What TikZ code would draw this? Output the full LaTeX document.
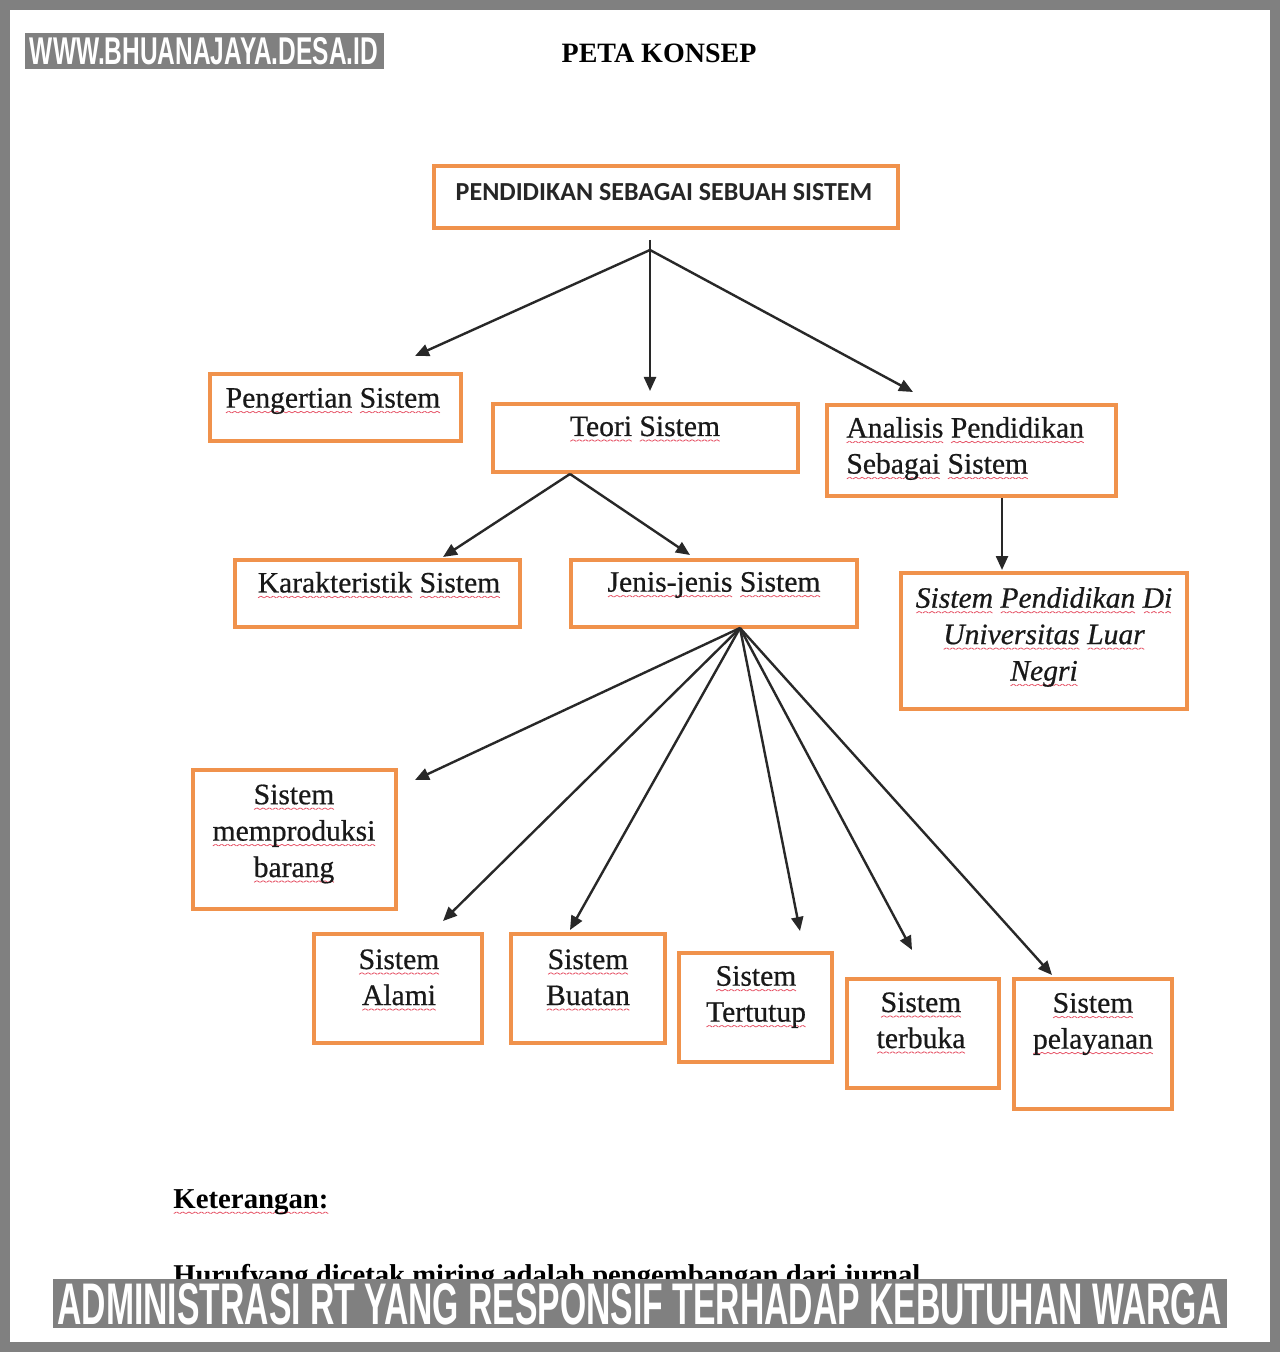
\documentclass[tikz,border=0pt]{standalone}
\usepackage{fontspec}
\setmainfont{Liberation Serif}
\newfontfamily\carlito{Carlito}
\newfontfamily\heros{Liberation Sans}
\newfontface\boxfont{Liberation Serif}[FakeBold=0.6]
\newfontface\boxfontit{Liberation Serif Italic}[FakeBold=0.6]
\usetikzlibrary{arrows.meta}
\definecolor{boxorange}{RGB}{240,146,76}
\definecolor{wmgray}{RGB}{128,128,128}
\definecolor{arrgray}{RGB}{40,40,40}
\definecolor{wavered}{RGB}{230,80,100}
\newcommand\wavepiece{\rotatebox{30}{\rule{1.5pt}{0.4pt}}\raisebox{0.75pt}{\rotatebox{-30}{\rule{1.5pt}{0.4pt}}}}
\newcommand\rw[1]{\setbox0=\hbox{#1}\leavevmode\rlap{\raisebox{-2.8pt}{\textcolor{wavered}{\hbox to\wd0{\xleaders\hbox{\wavepiece}\hfil}}}}\box0\relax}
\begin{document}
\begin{tikzpicture}[x=0.5pt,y=-0.5pt,
  box/.style={draw=boxorange, line width=2pt, inner sep=0pt, fill=white},
  txt/.style={font=\fontsize{14.8}{18}\selectfont\boxfont, align=center, inner sep=0pt, text=black!90},
  arr/.style={-{Triangle[length=7pt,width=6pt]}, line width=1.2pt, draw=arrgray}]
% frame
\fill[wmgray] (0,0) rectangle (1280,1352);
\fill[white] (10,10) rectangle (1270,1342);
\useasboundingbox (0,0) rectangle (1280,1352);

% watermark
\node[fill=wmgray, minimum width=179.5pt, minimum height=18pt, inner sep=0pt] (wm) at (204.5,51) {};
\node[text=white, inner sep=0pt] (wmt) at (204,51.5) {\resizebox{174pt}{13.5pt}{\heros\bfseries WWW.BHUANAJAYA.DESA.ID}};

% title
\node[font=\fontsize{14}{16}\selectfont\bfseries, inner sep=0pt] (title) at (659,53) {PETA KONSEP};

% boxes
\node[box, minimum width=232pt, minimum height=31pt] (top) at (666,197.5) {};
\node[inner sep=0pt, font=\fontsize{13}{15}\selectfont\carlito\bfseries, text=black!85] (topt) at (664,192) {PENDIDIKAN SEBAGAI SEBUAH SISTEM};

\node[box, minimum width=125.5pt, minimum height=33pt] (peng) at (335.5,407.5) {};
\node[txt] (pengt) at (333,401) {\rw{Pengertian} \rw{Sistem}};

\node[box, minimum width=152.5pt, minimum height=33.5pt] (teori) at (645.5,438) {};
\node[txt] (teorit) at (645,429) {\rw{Teori} \rw{Sistem}};

\node[box, minimum width=144.5pt, minimum height=45.5pt] (anal) at (971.5,450.5) {};
\node[txt, align=left, anchor=west] (analt) at (846,448.5) {\rw{Analisis} \rw{Pendidikan}\\\rw{Sebagai} \rw{Sistem}};

\node[box, minimum width=142.5pt, minimum height=33.5pt] (karak) at (377.5,593) {};
\node[txt] (karakt) at (379,585) {\rw{Karakteristik} \rw{Sistem}};

\node[box, minimum width=143pt, minimum height=33.5pt] (jenis) at (714,593) {};
\node[txt] (jenist) at (714,585) {\rw{Jenis-jenis} \rw{Sistem}};

\node[box, minimum width=143pt, minimum height=68pt] (luar) at (1044,641) {};
\node[txt, font=\fontsize{14.8}{18.2}\selectfont\boxfontit] (luart) at (1044,637) {\rw{Sistem} \rw{Pendidikan} \rw{Di}\\\rw{Universitas} \rw{Luar}\\\rw{Negri}};

\node[box, minimum width=101.5pt, minimum height=69.5pt] (barang) at (294.5,839.5) {};
\node[txt, font=\fontsize{14.8}{18.2}\selectfont\boxfont] (barangt) at (294,834) {\rw{Sistem}\\\rw{memproduksi}\\\rw{barang}};

\node[box, minimum width=84pt, minimum height=54.5pt] (alami) at (398,988.5) {};
\node[txt] (alamit) at (399,980) {\rw{Sistem}\\\rw{Alami}};

\node[box, minimum width=77pt, minimum height=54.5pt] (buatan) at (588,988.5) {};
\node[txt] (buatant) at (588,980) {\rw{Sistem}\\\rw{Buatan}};

\node[box, minimum width=76.5pt, minimum height=54.5pt] (tutup) at (755.5,1007.5) {};
\node[txt] (tutupt) at (756,997) {\rw{Sistem}\\\rw{Tertutup}};

\node[box, minimum width=76pt, minimum height=54.5pt] (buka) at (923,1033.5) {};
\node[txt] (bukat) at (921,1023) {\rw{Sistem}\\\rw{terbuka}};

\node[box, minimum width=79pt, minimum height=65pt] (layan) at (1093,1044) {};
\node[txt] (layant) at (1093,1024) {\rw{Sistem}\\\rw{pelayanan}};

% connector points
\coordinate (topstub) at (650,240);
\coordinate (topj) at (650,250);
\coordinate (e1) at (415,356);
\coordinate (e2) at (650,391);
\coordinate (e3) at (913,392);
\coordinate (teorij) at (570,474);
\coordinate (e4) at (443,557);
\coordinate (e5) at (690,555);
\coordinate (analj) at (1002,498);
\coordinate (e6) at (1002,570);
\coordinate (jenisj) at (740,628);
\coordinate (f1) at (415,780);
\coordinate (f2) at (443,921);
\coordinate (f3) at (570,930);
\coordinate (f4) at (800,931);
\coordinate (f5) at (912,950);
\coordinate (f6) at (1052,975);

\draw[arr] (topj) -- (e1);
\draw[arr] (topstub) -- (e2);
\draw[arr] (topj) -- (e3);
\draw[arr] (teorij) -- (e4);
\draw[arr] (teorij) -- (e5);
\draw[arr] (analj) -- (e6);
\draw[arr] (jenisj) -- (f1);
\draw[arr] (jenisj) -- (f2);
\draw[arr] (jenisj) -- (f3);
\draw[arr] (jenisj) -- (f4);
\draw[arr] (jenisj) -- (f5);
\draw[arr] (jenisj) -- (f6);

% keterangan
\node[font=\fontsize{14.4}{16}\selectfont\bfseries, anchor=west, inner sep=0pt] (ket) at (173,1202) {\rw{Keterangan:}};
\node[anchor=west, inner sep=0pt] (huruf) at (173,1278) {\resizebox{373.5pt}{!}{\fontsize{14.4}{16}\selectfont\bfseries Hurufyang dicetak miring adalah pengembangan dari jurnal}};

% banner
\node[fill=wmgray, minimum width=587pt, minimum height=24.5pt, inner sep=0pt] (ban) at (640,1303.5) {};
\node[text=white, inner sep=0pt] (bant) at (639.5,1304.5) {\resizebox{582pt}{20.5pt}{\heros\bfseries ADMINISTRASI RT YANG RESPONSIF TERHADAP KEBUTUHAN WARGA}};
\end{tikzpicture}
\end{document}
